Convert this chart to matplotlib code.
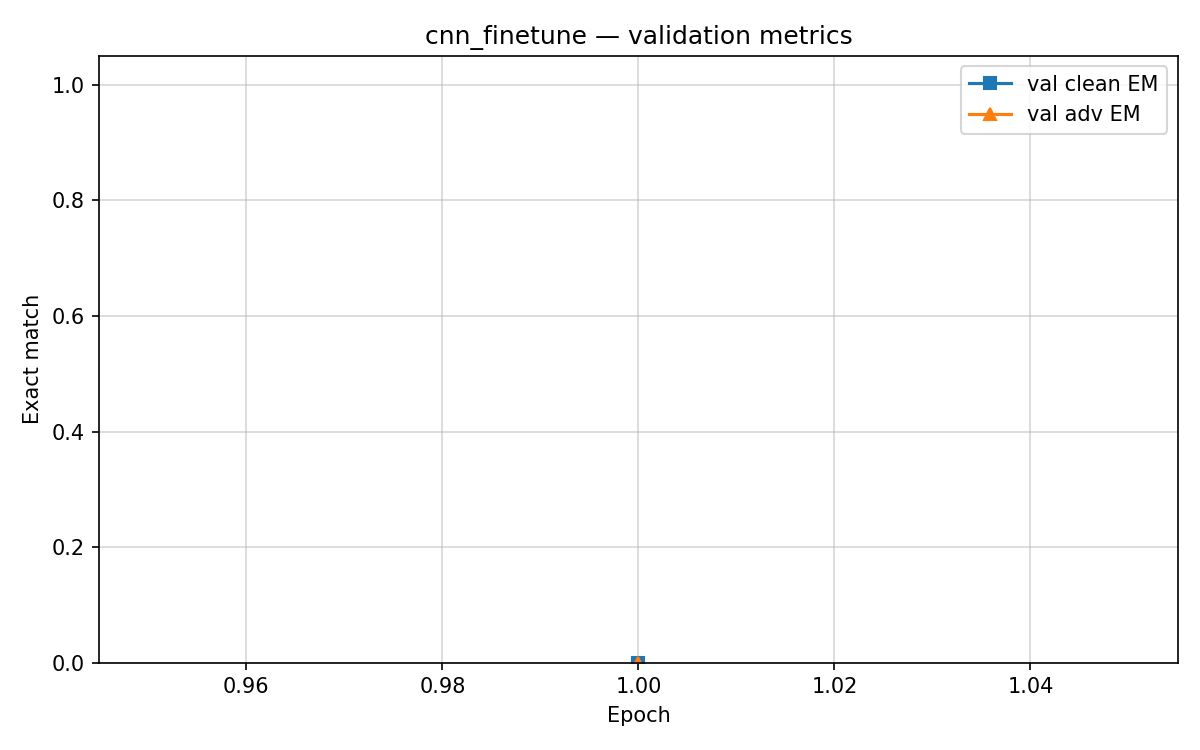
import matplotlib

matplotlib.use("Agg")
import matplotlib.pyplot as plt

epochs = [1]
val_clean_em = [0.0]
val_adv_em = [0.0]

fig, ax = plt.subplots(figsize=(8, 5))
ax.plot(epochs, val_clean_em, marker="s", label="val clean EM")
ax.plot(epochs, val_adv_em, marker="^", label="val adv EM")
ax.set_ylim(0, 1.05)
ax.set_xlabel("Epoch")
ax.set_ylabel("Exact match")
ax.set_title("cnn_finetune \u2014 validation metrics")
ax.grid(alpha=0.5)
ax.legend(loc="upper right")
fig.tight_layout()
fig.savefig("out.png", dpi=150)
plt.close(fig)
